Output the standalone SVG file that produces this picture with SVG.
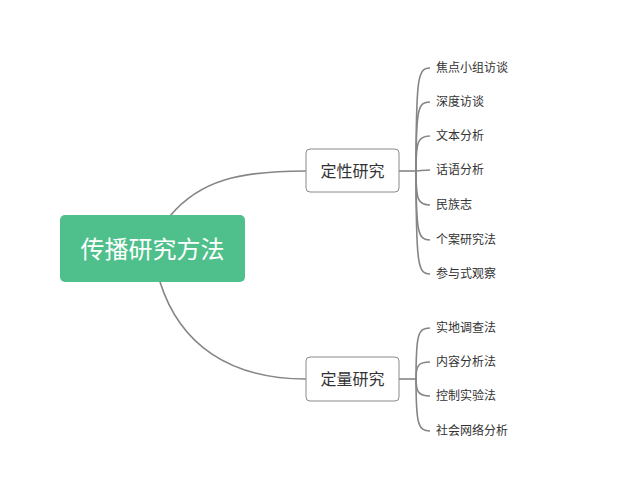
<svg xmlns="http://www.w3.org/2000/svg" width="633" height="485" viewBox="0 0 633 485">
<style>
.c{fill:none;stroke:#858585;stroke-width:1.6}
.b{fill:#fff;stroke:#8a8a8a;stroke-width:1}
.t{font-family:"Noto Sans CJK SC",sans-serif;fill:#333}
.m{font-size:16px}
.l{font-size:12px}
</style>
<rect width="633" height="485" fill="#fff"/>
<g id="connectors">
<path class="c" d="M170,216 C200,180 240,171 306,171"/>
<path class="c" d="M160,282 C180,345 230,379 306,379"/>
<path class="c" d="M399,171 H416"/>
<path class="c" d="M416,171 C416,76 418,68 430,68"/>
<path class="c" d="M416,171 C416,108 418,102 430,102"/>
<path class="c" d="M416,171 C416,141 418,136 430,136"/>
<path class="c" d="M416,171 C420,171 424,170 430,170"/>
<path class="c" d="M416,171 C416,200 418,205 430,205"/>
<path class="c" d="M416,171 C416,233 418,240 430,240"/>
<path class="c" d="M416,171 C416,266 418,274 430,274"/>
<path class="c" d="M399,379 H416"/>
<path class="c" d="M416,379 C416,334 418,328 430,328"/>
<path class="c" d="M416,379 C416,366 418,362 430,362"/>
<path class="c" d="M416,379 C416,391 418,396 430,396"/>
<path class="c" d="M416,379 C416,424 418,431 430,431"/>
</g>
<g id="root"><rect x="60" y="215" width="185" height="67" rx="5" fill="#4fbf8b"/><text x="152.5" y="258" text-anchor="middle" class="t" style="font-size:24px;fill:#fff">传播研究方法</text></g>
<g id="qual"><rect class="b" x="306" y="149" width="93" height="43" rx="4"/><text x="352.5" y="176.5" text-anchor="middle" class="t m">定性研究</text></g>
<g id="quant"><rect class="b" x="306" y="357" width="93" height="44" rx="4"/><text x="352.5" y="385" text-anchor="middle" class="t m">定量研究</text></g>
<g id="leaves" class="t l">
<text x="436" y="72">焦点小组访谈</text>
<text x="436" y="106">深度访谈</text>
<text x="436" y="140">文本分析</text>
<text x="436" y="174">话语分析</text>
<text x="436" y="209">民族志</text>
<text x="436" y="244">个案研究法</text>
<text x="436" y="278">参与式观察</text>
<text x="436" y="332">实地调查法</text>
<text x="436" y="366">内容分析法</text>
<text x="436" y="400">控制实验法</text>
<text x="436" y="435">社会网络分析</text>
</g>
</svg>
